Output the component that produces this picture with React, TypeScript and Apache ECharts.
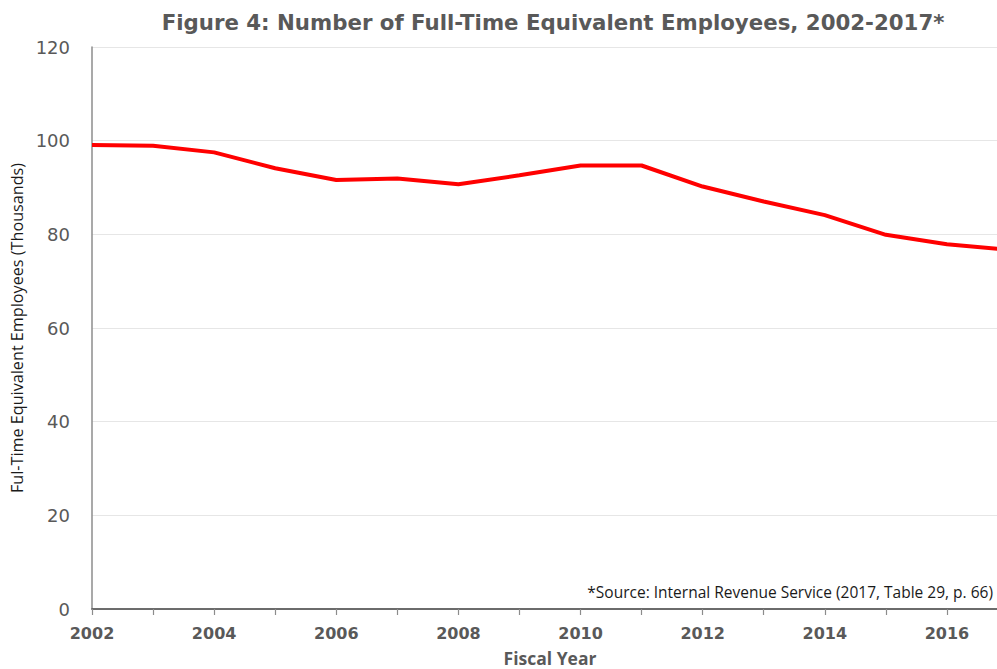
import React, { useEffect, useRef } from "react";
import * as echarts from "echarts";

const years = ["2002","2003","2004","2005","2006","2007","2008","2009","2010","2011","2012","2013","2014","2015","2016","2017"];
const fteThousands = [99.1, 98.9, 97.5, 94.1, 91.6, 91.9, 90.7, 92.6, 94.7, 94.7, 90.2, 87.0, 84.1, 79.9, 77.9, 76.7];
const yTicks = [0, 20, 40, 60, 80, 100, 120];

const TITLE = "Figure 4: Number of Full-Time Equivalent Employees, 2002-2017*";
const SOURCE = "*Source: Internal Revenue Service (2017, Table 29, p. 66)";

export default function App() {
  const ref = useRef<HTMLDivElement>(null);
  useEffect(() => {
    if (!ref.current) return;
    const chart = echarts.init(ref.current, undefined, { renderer: "svg" });
    const data = years.map((y, i) => [Number(y), fteThousands[i]]);
    chart.setOption({
      animation: false,
      backgroundColor: "#ffffff",
      grid: { left: 92, right: -11, top: 47, bottom: 60, containLabel: false, outerBoundsMode: "none" },
      graphic: [
        {
          type: "text",
          x: 553,
          y: 22,
          style: {
            text: TITLE,
            font: "bold 21.3px 'DejaVu Sans'",
            fill: "#595959",
            textAlign: "center",
            textVerticalAlign: "middle",
          },
        },
        {
          type: "text",
          x: 993,
          y: 592,
          style: {
            text: SOURCE,
            font: "15.5px 'Open Sans'",
            fill: "#1a1a1a",
            textAlign: "right",
            textVerticalAlign: "middle",
          },
        },
      ],
      xAxis: [
        {
          type: "value",
          min: 2002,
          max: 2017,
          interval: 1,
          position: "bottom",
          axisLine: { show: true, onZero: false, lineStyle: { color: "#8c8c8c", width: 1.5 } },
          axisTick: { show: true, length: 6, lineStyle: { color: "#8c8c8c", width: 1.2 } },
          splitLine: { show: false },
          axisLabel: {
            margin: 16,
            color: "#595959",
            fontFamily: "DejaVu Sans",
            fontWeight: "bold",
            fontSize: 16,
            formatter: (v: number) => (v % 2 === 0 && v < 2017 ? String(v) : ""),
            showMaxLabel: false,
          },
          name: "Fiscal Year",
          nameLocation: "middle",
          nameGap: 40,
          nameTextStyle: { color: "#595959", fontFamily: "Open Sans", fontWeight: "bold", fontSize: 17.5 },
        },
        {
          type: "value",
          min: 2002,
          max: 2017,
          position: "top",
          axisLine: { show: true, lineStyle: { color: "#595959", width: 1.5 } },
          axisTick: { show: false },
          axisLabel: { show: false },
          splitLine: { show: false },
        },
      ],
      yAxis: {
        type: "value",
        min: 0,
        max: 120,
        interval: 20,
        axisLine: { show: true, lineStyle: { color: "#8c8c8c", width: 1.5 } },
        axisTick: { show: false },
        splitLine: { show: true, lineStyle: { color: "#e6e6e6", width: 1 } },
        axisLabel: {
          margin: 22,
          color: "#595959",
          fontFamily: "DejaVu Sans",
          fontSize: 18,
          formatter: (v: number) => (yTicks.includes(v) ? String(v) : ""),
        },
        name: "Ful-Time Equivalent Employees (Thousands)",
        nameLocation: "middle",
        nameGap: 62,
        nameTextStyle: { color: "#1a1a1a", fontFamily: "Open Sans", fontSize: 16.2 },
      },
      series: [
        {
          type: "line",
          data,
          xAxisIndex: 0,
          showSymbol: false,
          symbol: "none",
          lineStyle: { color: "#ff0000", width: 4 },
          clip: true,
        },
      ],
    });
    return () => chart.dispose();
  }, []);
  return (
    <div
      ref={ref}
      style={{ position: "absolute", left: 0, top: 0, width: 997, height: 669 }}
    />
  );
}
